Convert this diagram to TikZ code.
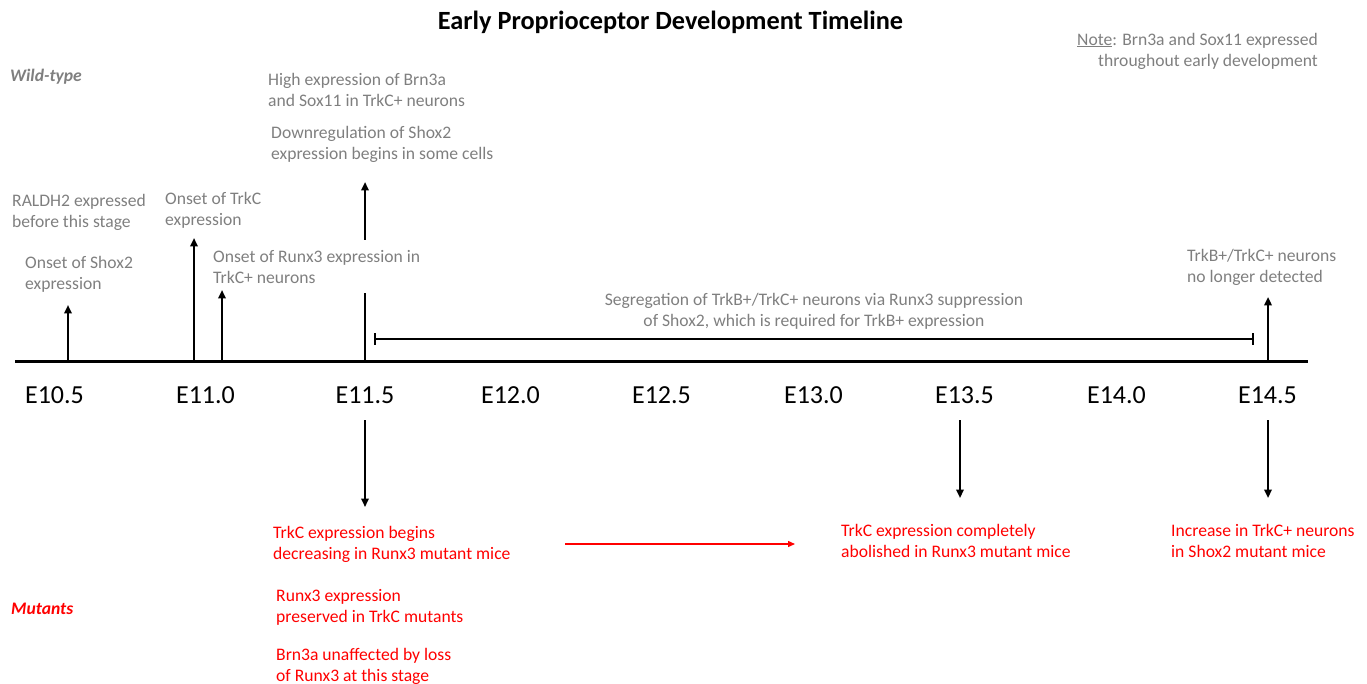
\documentclass[tikz,border=0pt]{standalone}
\usepackage{fontspec}
\setmainfont{Carlito}
\usetikzlibrary{arrows.meta}
\definecolor{txtgray}{HTML}{7F7F7F}
\definecolor{mutred}{HTML}{FF0000}
\tikzset{
  gtext/.style={text=txtgray, font=\fontsize{17.6}{21}\selectfont, align=left, inner sep=0pt, anchor=west},
  rtext/.style={text=mutred, font=\fontsize{17.6}{21}\selectfont, align=left, inner sep=0pt, anchor=west},
  ticklabel/.style={font=\fontsize{26}{30}\selectfont, inner sep=0pt},
  uparrow/.style={line width=2.2pt, -{Triangle[length=8.5pt,width=7.5pt]}},
  downarrow/.style={line width=2pt, -{Triangle[length=8.5pt,width=7.5pt]}},
  plainline/.style={line width=2.2pt},
  axisline/.style={line width=3pt},
  spanline/.style={line width=2pt, |-|},
  redarrow/.style={line width=1.3pt, draw=mutred, -{Triangle[length=7pt,width=6pt]}}
}
\begin{document}
\begin{tikzpicture}[x=1pt,y=-1pt]
\useasboundingbox (0,0) rectangle (1367,684);
% title and note
\node[font=\fontsize{26.3}{30}\selectfont\bfseries, inner sep=0pt] (title) at (670.5,22.5) {Early Proprioceptor Development Timeline};
\node[text=txtgray, font=\fontsize{17.6}{21}\selectfont, align=right, inner sep=0pt, anchor=east] (note) at (1318,51) {\underline{Note}: Brn3a and Sox11 expressed\\throughout early development};
\node[text=txtgray, font=\fontsize{17.6}{21}\selectfont\bfseries\itshape, inner sep=0pt, anchor=west] (wt) at (10,77) {Wild-type};
\node[text=mutred, font=\fontsize{17.6}{21}\selectfont\bfseries\itshape, inner sep=0pt, anchor=west] (mut) at (11,609) {Mutants};
% axis
\coordinate (axL) at (15,361);
\coordinate (axR) at (1308,361);
\draw[axisline] (axL) -- (axR);
% tick labels
\node[ticklabel] (e105) at (54.5,395) {E10.5};
\node[ticklabel] (e110) at (205.5,395) {E11.0};
\node[ticklabel] (e115) at (365,395) {E11.5};
\node[ticklabel] (e120) at (510.5,395) {E12.0};
\node[ticklabel] (e125) at (661.5,395) {E12.5};
\node[ticklabel] (e130) at (813.5,395) {E13.0};
\node[ticklabel] (e135) at (964.5,395) {E13.5};
\node[ticklabel] (e140) at (1116.5,395) {E14.0};
\node[ticklabel] (e145) at (1267.5,395) {E14.5};
% axis points and arrow ends
\coordinate (p1) at (68,361);   \coordinate (t1) at (68,305);
\coordinate (p2) at (194,361);  \coordinate (t2) at (194,238);
\coordinate (p3) at (222,361);  \coordinate (t3) at (222,290);
\coordinate (p4) at (365,361);  \coordinate (t4) at (365,293);
\coordinate (p5) at (365,240);  \coordinate (t5) at (365,182);
\coordinate (p6) at (1268,361); \coordinate (t6) at (1268,297);
\draw[uparrow] (p1) -- (t1);
\draw[uparrow] (p2) -- (t2);
\draw[uparrow] (p3) -- (t3);
\draw[plainline] (p4) -- (t4);
\draw[uparrow] (p5) -- (t5);
\draw[uparrow] (p6) -- (t6);
% span bar
\coordinate (sL) at (374,339);
\coordinate (sR) at (1254,339);
\draw[spanline] (sL) -- (sR);
% wild-type texts
\node[gtext] (hi) at (268,89.5) {High expression of Brn3a\\and Sox11 in TrkC+ neurons};
\node[gtext] (down) at (271,144.5) {Downregulation of Shox2\\expression begins in some cells};
\node[gtext] (raldh) at (12,212.5) {RALDH2 expressed\\before this stage};
\node[gtext] (trkc) at (165,210.5) {Onset of TrkC\\expression};
\node[gtext] (shox) at (25,274.5) {Onset of Shox2\\expression};
\node[gtext] (runx) at (213,267.5) {Onset of Runx3 expression in\\TrkC+ neurons};
\node[text=txtgray, font=\fontsize{17.6}{21}\selectfont, align=center, inner sep=0pt] (seg) at (814,311.5) {Segregation of TrkB+/TrkC+ neurons via Runx3 suppression\\of Shox2, which is required for TrkB+ expression};
\node[gtext] (nolong) at (1187,267.5) {TrkB+/TrkC+ neurons\\no longer detected};
% mutant arrows
\coordinate (d1s) at (365,420); \coordinate (d1e) at (365,507);
\coordinate (d2s) at (960,420); \coordinate (d2e) at (960,498);
\coordinate (d3s) at (1268,420); \coordinate (d3e) at (1268,498);
\draw[downarrow] (d1s) -- (d1e);
\draw[downarrow] (d2s) -- (d2e);
\draw[downarrow] (d3s) -- (d3e);
% mutant texts
\node[rtext] (m1) at (273,544.5) {TrkC expression begins\\decreasing in Runx3 mutant mice};
\node[rtext] (m2) at (276,607.5) {Runx3 expression\\preserved in TrkC mutants};
\node[rtext] (m3) at (276,666.5) {Brn3a unaffected by loss\\of Runx3 at this stage};
\node[rtext] (m4) at (841,540.5) {TrkC expression completely\\abolished in Runx3 mutant mice};
\node[rtext] (m5) at (1171,540.5) {Increase in TrkC+ neurons\\in Shox2 mutant mice};
% red arrow
\coordinate (ra) at (565,544);
\coordinate (rb) at (795,544);
\draw[redarrow] (ra) -- (rb);
\end{tikzpicture}
\end{document}
